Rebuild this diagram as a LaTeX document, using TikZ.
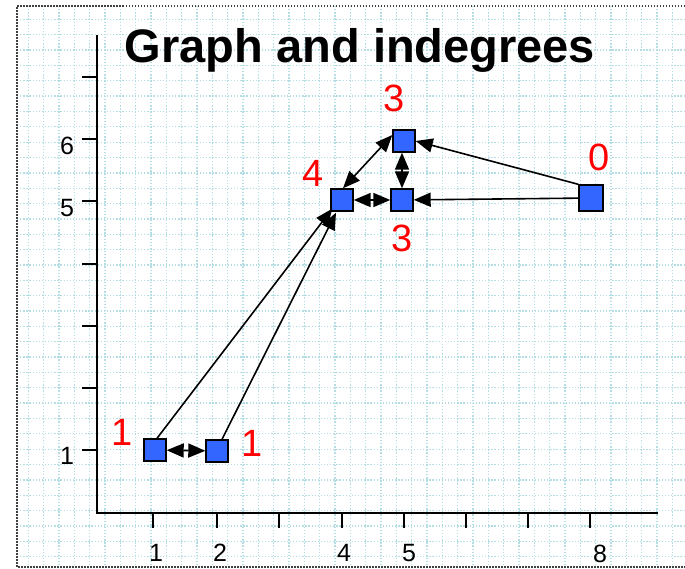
\documentclass[tikz,border=0pt]{standalone}
\usepackage{fontspec}
\setmainfont{Liberation Sans}
\usetikzlibrary{arrows.meta}
\definecolor{gridc}{RGB}{180,222,228}
\definecolor{vblue}{RGB}{51,102,255}
\definecolor{lred}{RGB}{255,0,0}
\tikzset{
  vtx/.style={draw=black, fill=vblue, minimum size=22pt, inner sep=0pt, line width=1.4pt},
  deg/.style={text=lred, font=\fontsize{38}{40}\selectfont, inner sep=0pt},
  tlab/.style={font=\fontsize{25}{27}\selectfont, inner sep=0pt},
  tipA/.tip={Triangle[length=17pt,width=14pt]},
  edge/.style={line width=1.6pt, -tipA},
  dbl/.style={line width=1.6pt, tipA-tipA},
  ax/.style={line width=2pt},
  tk/.style={line width=1.6pt}
}
\begin{document}
\begin{tikzpicture}[x=1pt,y=-1pt]
\useasboundingbox (0,0) rectangle (685,568);
\fill[white] (0,0) rectangle (685,568);
% grid
\begin{scope}
\clip (17,6) rectangle (685,567);
\foreach \k in {0,...,44} {
  \draw[gridc, line width=1.3pt, dash pattern=on 1.3pt off 1.8pt] ({13+15.33*\k},6) -- ({13+15.33*\k},567);
}
\foreach \k in {0,...,37} {
  \draw[gridc, line width=1.3pt, dash pattern=on 1.3pt off 1.8pt] (17,{4+15.35*\k}) -- (685,{4+15.35*\k});
}
\end{scope}
% border
\draw[black!75, line width=1.3pt, dash pattern=on 1.5pt off 1.5pt] (685,6) -- (17,6) -- (17,567) -- (685,567);
% title
\node[font=\fontsize{47}{50}\selectfont\bfseries, anchor=base, inner sep=0pt] (title) at (360,62) {Graph and indegrees};
% axes
\draw[ax] (97,35) -- (97,513) -- (658,513);
\foreach \y in {77,139,201,264,326,388,450} { \draw[tk] (82,\y) -- (97,\y); }
\foreach \x in {153,217,279,342,404,466,528,590} { \draw[tk] (\x,513) -- (\x,528); }
% tick labels
\node[tlab] (y6) at (67,146) {6};
\node[tlab] (y5) at (67,208) {5};
\node[tlab] (y1) at (67,456) {1};
\node[tlab] (x1) at (156,553) {1};
\node[tlab] (x2) at (220,553) {2};
\node[tlab] (x4) at (344,553) {4};
\node[tlab] (x5) at (409,553) {5};
\node[tlab] (x8) at (600,554) {8};
% vertices
\node[vtx] (n1) at (155,450) {};
\node[vtx] (n2) at (217,451) {};
\node[vtx] (n4) at (342,200) {};
\node[vtx] (n5) at (402,200) {};
\node[vtx] (n6) at (404,141) {};
\node[vtx, minimum width=24pt, minimum height=26pt] (n8) at (591,198) {};
% indegree labels
\node[deg] (d6) at (394,98) {3};
\node[deg] (d4) at (313,173) {4};
\node[deg] (d5) at (402,238) {3};
\node[deg] (d8) at (599,157) {0};
\node[deg] (d1) at (122,432) {1};
\node[deg] (d2) at (252,443) {1};
% edges
\draw[dbl] (n1) -- (n2);
\draw[edge] ([xshift=2pt]n1.north) -- ([xshift=2pt,yshift=3pt]n4.south west);
\draw[edge] ([xshift=5pt]n2.north) -- ([xshift=-6pt,yshift=-1pt]n4.south);
\draw[dbl] (n4) -- (n5);
\draw[dbl] ([xshift=1pt]n4.north) -- ([yshift=6pt]n6.west);
\draw[dbl] ([xshift=-2pt]n6.south) -- (n5.north);
\draw[edge] (n8) -- (n5);
\draw[edge] (n8.north west) -- (n6.east);
\end{tikzpicture}
\end{document}
